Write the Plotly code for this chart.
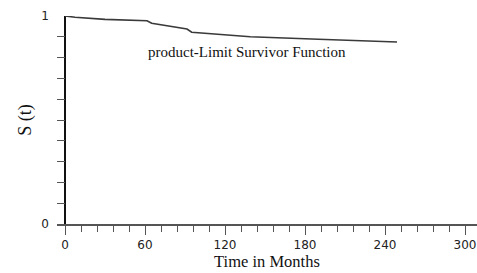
import plotly.graph_objects as go

months = [0, 7.5, 30, 61.5, 65, 78, 91.5, 95, 139, 190, 249]
survival = [1.0, 0.994, 0.984, 0.977, 0.965, 0.952, 0.9375, 0.922, 0.900, 0.888, 0.875]

x_ticks = [0, 60, 120, 180, 240, 300]
y_ticks = [0, 1]

fig = go.Figure()
fig.add_trace(go.Scatter(x=months, y=survival, mode="lines",
                         line=dict(color="#3a3a3a", width=1.6), showlegend=False,
                         cliponaxis=False, hoverinfo="skip"))

fig.add_annotation(x=136.5, y=0.827, text="product-Limit Survivor Function",
                   showarrow=False, font=dict(family="Liberation Serif", size=15, color="#111"))

fig.update_layout(
    width=477, height=273,
    margin=dict(l=57, r=0, t=16, b=49, autoexpand=False),
    paper_bgcolor="white", plot_bgcolor="white",
    xaxis=dict(range=[-6, 309], tickvals=x_ticks, ticktext=[str(v) for v in x_ticks],
               automargin=False,
               showgrid=False, zeroline=True, zerolinecolor="#111", zerolinewidth=1.5,
               showline=True, linecolor="#555", linewidth=1.5,
               ticks="outside", ticklen=9, tickcolor="#555", tickwidth=1,
               minor=dict(dtick=12, tick0=0, ticks="outside", ticklen=6, tickcolor="#555", showgrid=False),
               tickfont=dict(family="DejaVu Sans", size=12, color="#222"),
               title=dict(text="Time in Months", font=dict(family="Liberation Serif", size=16.5, color="#111"),
                          standoff=4)),
    yaxis=dict(range=[0, 1], tickvals=y_ticks, ticktext=["0", "1"],
               automargin=False,
               showgrid=False, zeroline=False, showline=False,
               ticks="inside", ticklen=8, tickcolor="#555", tickwidth=1,
               ticklabelstandoff=7,
               minor=dict(dtick=0.1, tick0=0, ticks="inside", ticklen=8, tickcolor="#555", showgrid=False),
               tickfont=dict(family="DejaVu Sans", size=12, color="#222"),
               title=dict(text="S (t)", font=dict(family="Liberation Serif", size=18, color="#111"),
                          standoff=5)),
)

fig.write_html("out.html", config={"displayModeBar": False},
               post_script="document.body.style.margin='0';document.body.style.padding='0';")
